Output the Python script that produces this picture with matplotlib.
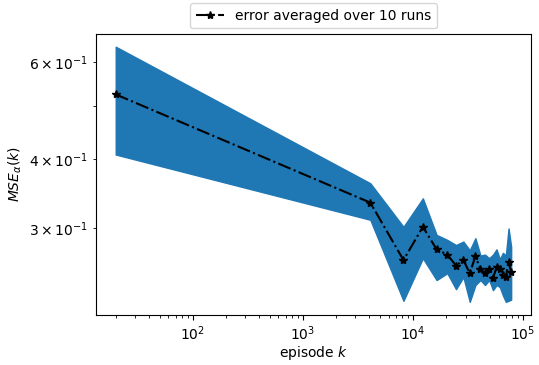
import numpy as np
import matplotlib
matplotlib.use("Agg")
import matplotlib.pyplot as plt

# episodes at which the error was evaluated
episodes = [20, 4100, 8200, 12300, 16400, 20500, 24600, 28700, 32800, 36900,
            41000, 45100, 49200, 53300, 57400, 61500, 65600, 69700, 73800, 77900]

# mean error over the runs
mse_mean = [0.524, 0.334, 0.263, 0.302, 0.275, 0.269, 0.257, 0.263, 0.249, 0.267,
            0.253, 0.249, 0.253, 0.244, 0.255, 0.253, 0.247, 0.245, 0.261, 0.250]

# spread band
mse_upper = [0.639, 0.362, 0.302, 0.340, 0.292, 0.286, 0.280, 0.284, 0.274, 0.288,
             0.268, 0.269, 0.265, 0.269, 0.275, 0.264, 0.271, 0.268, 0.300, 0.278]
mse_lower = [0.408, 0.311, 0.222, 0.265, 0.242, 0.249, 0.233, 0.245, 0.221, 0.237,
             0.242, 0.237, 0.242, 0.232, 0.237, 0.235, 0.227, 0.221, 0.222, 0.223]

fig = plt.figure(figsize=(5.39, 3.65), dpi=100)
ax = fig.add_axes([0.178, 0.138, 0.807, 0.769])

ax.fill_between(episodes, mse_lower, mse_upper, color="C0")
ax.plot(episodes, mse_mean, "k-.", marker="*", label="error averaged over 10 runs")

ax.set_xscale("log")
ax.set_yscale("log")
ax.set_xlabel("episode $k$", labelpad=1)
ax.set_ylabel(r"$MSE_\alpha(k)$")
ax.legend(loc="lower center", bbox_to_anchor=(0.5, 0.995))

fig.savefig("out.png", dpi=100)
